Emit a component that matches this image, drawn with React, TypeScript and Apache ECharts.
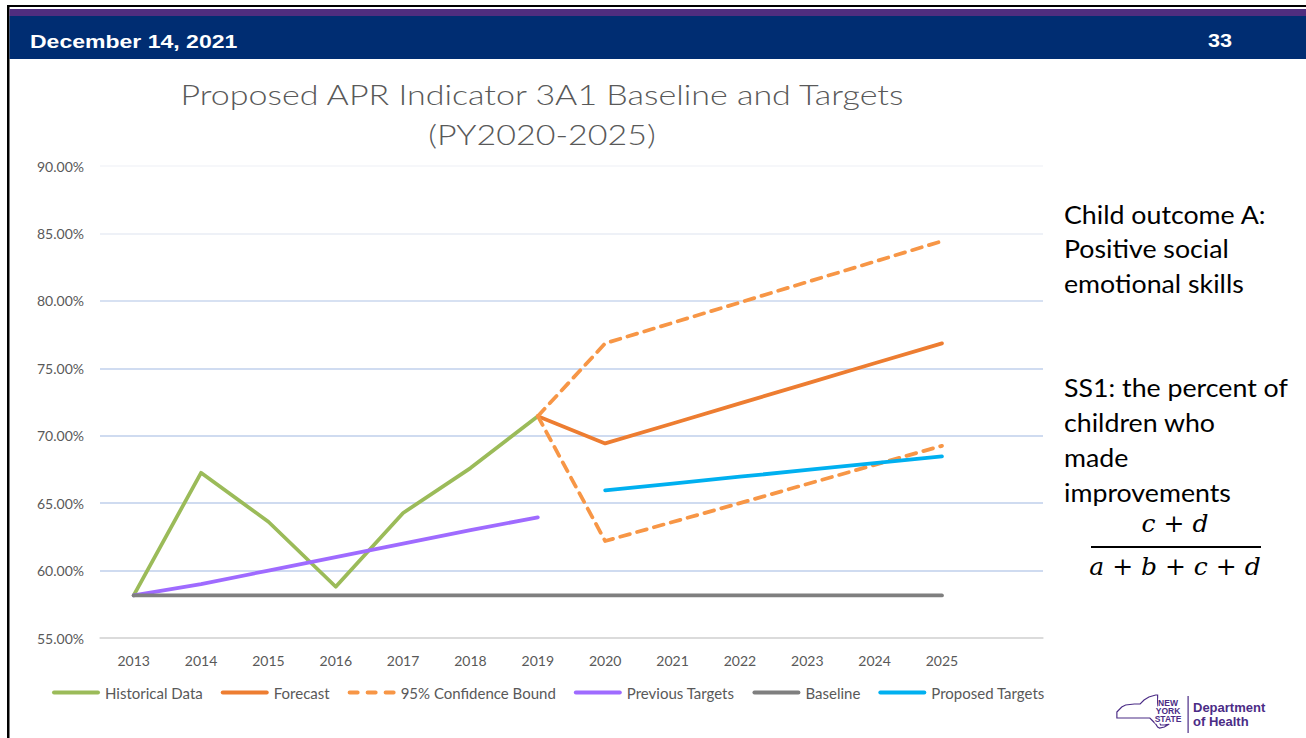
import React, { useEffect, useRef } from 'react';
import * as echarts from 'echarts';

const years = ['2013', '2014', '2015', '2016', '2017', '2018', '2019', '2020', '2021', '2022', '2023', '2024', '2025', ''];
const historical = [58.16, 67.25, 63.62, 58.8, 64.27, 67.6, 71.45, null, null, null, null, null, null, null];
const forecast = [null, null, null, null, null, null, 71.45, 69.43, 70.91, 72.4, 73.88, 75.37, 76.85, null];
const upperBound = [null, null, null, null, null, null, 71.45, 76.85, 78.37, 79.88, 81.4, 82.91, 84.43, null];
const lowerBound = [null, null, null, null, null, null, 71.45, 62.19, 63.6, 65.0, 66.42, 67.84, 69.25, null];
const previousTargets = [58.16, 59.0, 60.0, 61.0, 62.0, 63.0, 63.95, null, null, null, null, null, null, null];
const baseline = [58.16, 58.16, 58.16, 58.16, 58.16, 58.16, 58.16, 58.16, 58.16, 58.16, 58.16, 58.16, 58.16, null];
const proposedTargets = [null, null, null, null, null, null, null, 65.95, 66.45, 66.96, 67.46, 67.97, 68.47, null];

const titleLines = ['Proposed APR Indicator 3A1 Baseline and Targets', '(PY2020-2025)'];
const noteLines1 = ['Child outcome A:', 'Positive social', 'emotional skills'];
const noteLines2 = ['SS1: the percent of', 'children who', 'made', 'improvements'];

const NYS_PATH =
  'M4 18 L9 13 L13 11 L22 10 L28 10 L32 6 L37 3 L44 1 L46 1 L46 9 L47 18 L48 28 L49 31 L53 31 L58 30 L53 33 L48 34 L46 33 L44 30 L40 26 L38 24 L4 24 Z';

const SOLID_ICON = 'path://M2,0 L46,0 A2,2 0 0 1 46,4 L2,4 A2,2 0 0 1 2,0 Z';
const DASH_ICON =
  'path://M2,0 L10,0 A2,2 0 0 1 10,4 L2,4 A2,2 0 0 1 2,0 Z M20,0 L28,0 A2,2 0 0 1 28,4 L20,4 A2,2 0 0 1 20,0 Z M38,0 L46,0 A2,2 0 0 1 46,4 L38,4 A2,2 0 0 1 38,0 Z';

let registered = false;

export default function App() {
  const ref = useRef<HTMLDivElement>(null);
  useEffect(() => {
    document.body.style.margin = '0';
    if (!registered) {
      echarts.graphic.registerShape('nysOutline', echarts.graphic.extendPath(NYS_PATH, {}) as any);
      registered = true;
    }
    const chart = echarts.init(ref.current!, null, { renderer: 'svg' });
    const font = 'Lato, "Noto Sans", sans-serif';
    const mkLine = (name: string, data: (number | null)[], color: string, dashed = false) => ({
      name,
      type: 'line',
      data,
      symbol: 'none',
      connectNulls: false,
      lineStyle: {
        color,
        width: 3.75,
        cap: 'round',
        join: 'round',
        type: dashed ? [10, 7.5] : 'solid',
      },
      itemStyle: { color },
    });
    const purple = '#4b2c86';
    chart.setOption({
      animation: false,
      backgroundColor: '#ffffff',
      grid: { left: 100, right: 263, top: 166, bottom: 100 },
      xAxis: {
        type: 'category',
        data: years,
        boundaryGap: true,
        axisLine: { show: true, lineStyle: { color: '#d9d9d9', width: 1.5 } },
        axisTick: { show: false },
        axisLabel: { color: '#595959', fontSize: 14, fontFamily: font, margin: 15, interval: 0 },
      },
      yAxis: {
        type: 'value',
        min: 55,
        max: 90,
        interval: 5,
        axisLine: { show: false },
        axisTick: { show: false },
        axisLabel: {
          color: '#595959',
          fontSize: 14,
          fontFamily: font,
          margin: 16,
          formatter: (v: number) => v.toFixed(2) + '%',
        },
        splitLine: {
          lineStyle: {
            width: 1.5,
            color: ['#d9d9d9', '#bfcfeb', '#bfcfeb', '#bfcfeb', '#c1d1ec', '#cad7ee', '#e8edf5', '#f3f5f9'],
          },
        },
      },
      legend: {
        left: 52,
        top: 685,
        padding: 0,
        itemWidth: 48,
        itemHeight: 4,
        itemGap: 18,
        textStyle: { color: '#595959', fontSize: 15, fontFamily: font },
        data: [
          { name: 'Historical Data', icon: SOLID_ICON },
          { name: 'Forecast', icon: SOLID_ICON },
          { name: '95% Confidence Bound', icon: DASH_ICON },
          { name: 'Previous Targets', icon: SOLID_ICON },
          { name: 'Baseline', icon: SOLID_ICON },
          { name: 'Proposed Targets', icon: SOLID_ICON },
        ],
      },
      series: [
        mkLine('Historical Data', historical, '#9bbb59'),
        mkLine('Forecast', forecast, '#ed7d31'),
        mkLine('95% Confidence Bound', upperBound, '#f79646', true),
        mkLine('95% Confidence Bound', lowerBound, '#f79646', true),
        mkLine('Previous Targets', previousTargets, '#9f6bff'),
        mkLine('Baseline', baseline, '#7f7f7f'),
        mkLine('Proposed Targets', proposedTargets, '#00b0f0'),
      ],
      graphic: [
        { type: 'rect', shape: { x: 8, y: 5, width: 1300, height: 2 }, style: { fill: '#000000' }, silent: true },
        { type: 'rect', shape: { x: 7, y: 5, width: 2.5, height: 740 }, style: { fill: '#000000' }, silent: true },
        { type: 'rect', shape: { x: 9.5, y: 9, width: 1300, height: 7 }, style: { fill: '#4f2d7f' }, silent: true },
        { type: 'rect', shape: { x: 9.5, y: 16, width: 1300, height: 43 }, style: { fill: '#002d72' }, silent: true },
        {
          type: 'text',
          x: 30,
          y: 41,
          scaleX: 1.28,
          style: { text: 'December 14, 2021', fill: '#ffffff', font: 'bold 18px "Liberation Sans", Arial, sans-serif', textVerticalAlign: 'middle' },
        },
        {
          type: 'text',
          x: 1208,
          y: 41,
          scaleX: 1.2,
          style: { text: '33', fill: '#ffffff', font: 'bold 18px "Liberation Sans", Arial, sans-serif', textVerticalAlign: 'middle' },
        },
        ...titleLines.map((t, i) => ({
          type: 'text',
          x: 542,
          y: 94 + i * 40,
          scaleX: 1.215,
          style: { text: t, fill: '#595959', font: `300 28px ${font}`, textAlign: 'center', textVerticalAlign: 'middle' },
        })),
        ...noteLines1.map((t, i) => ({
          type: 'text',
          x: 1064,
          y: 214 + i * 34.5,
          scaleX: 1.07,
          style: { text: t, fill: '#000000', font: `25px ${font}`, textVerticalAlign: 'middle' },
        })),
        ...noteLines2.map((t, i) => ({
          type: 'text',
          x: 1064,
          y: 387 + i * 35,
          scaleX: 1.07,
          style: { text: t, fill: '#000000', font: `25px ${font}`, textVerticalAlign: 'middle' },
        })),
        {
          type: 'text',
          x: 1175,
          y: 523,
          style: {
            text: '{i|c} + {i|d}',
            fill: '#000000',
            font: '25px "DejaVu Serif", serif',
            textAlign: 'center',
            textVerticalAlign: 'middle',
            rich: { i: { font: 'italic 25px "DejaVu Serif", serif', fill: '#000000' } },
          },
        },
        { type: 'rect', shape: { x: 1091, y: 546, width: 170, height: 2 }, style: { fill: '#000000' } },
        {
          type: 'text',
          x: 1175,
          y: 566,
          style: {
            text: '{i|a} + {i|b} + {i|c} + {i|d}',
            fill: '#000000',
            font: '25px "DejaVu Serif", serif',
            textAlign: 'center',
            textVerticalAlign: 'middle',
            rich: { i: { font: 'italic 25px "DejaVu Serif", serif', fill: '#000000' } },
          },
        },
        {
          type: 'nysOutline',
          x: 1113,
          y: 694,
          scaleX: 0.97,
          scaleY: 1,
          style: { fill: 'none', stroke: purple, lineWidth: 1.2 },
        },
        ...['NEW', 'YORK', 'STATE'].map((t, i) => ({
          type: 'text',
          x: 1168,
          y: 703 + i * 8,
          style: { text: t, fill: purple, font: 'bold 8.5px "Liberation Sans", Arial, sans-serif', textAlign: 'center', textVerticalAlign: 'middle', backgroundColor: '#ffffff' },
        })),
        { type: 'rect', shape: { x: 1187.5, y: 696, width: 1.2, height: 37 }, style: { fill: purple } },
        {
          type: 'text',
          x: 1193,
          y: 707,
          style: { text: 'Department', fill: purple, font: 'bold 13px "Liberation Sans", Arial, sans-serif', textVerticalAlign: 'middle' },
        },
        {
          type: 'text',
          x: 1193,
          y: 721,
          style: { text: 'of Health', fill: purple, font: 'bold 13px "Liberation Sans", Arial, sans-serif', textVerticalAlign: 'middle' },
        },
      ],
    });
    return () => chart.dispose();
  }, []);
  return <div ref={ref} style={{ position: 'absolute', left: 0, top: 0, width: 1306, height: 738 }} />;
}
